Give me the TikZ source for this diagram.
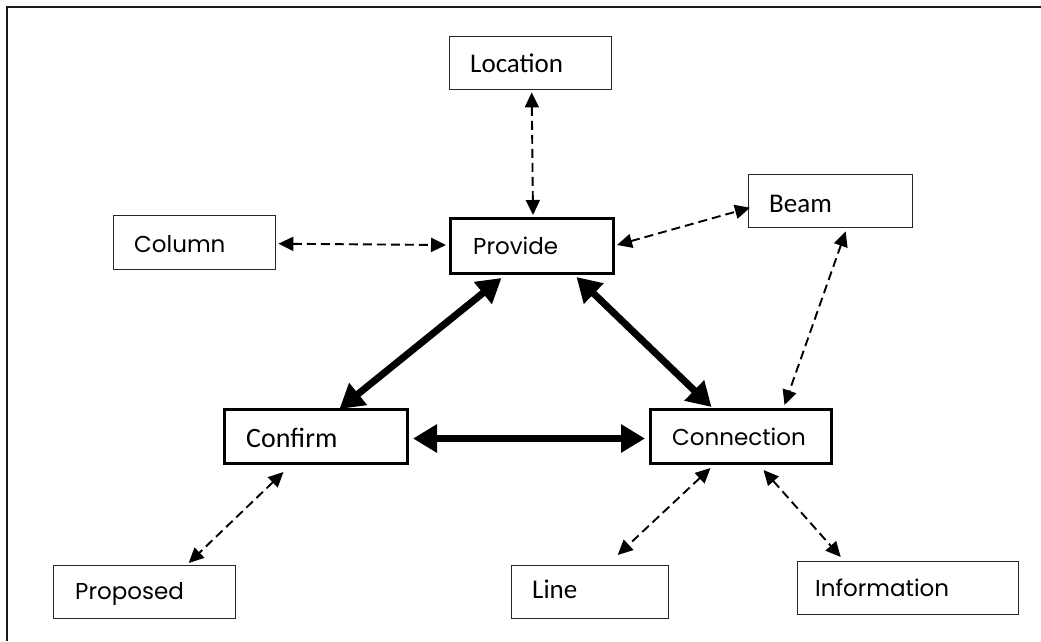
\documentclass[tikz,border=0pt]{standalone}
\usepackage{fontspec}
\setmainfont{Poppins}
\newfontfamily\calfont{Carlito}
\usetikzlibrary{arrows.meta,calc}
\begin{document}
\begin{tikzpicture}[x=1pt,y=-1pt,
  thinbox/.style={draw=black!85,line width=1.4pt,rectangle,inner sep=0pt,anchor=north west},
  thickbox/.style={draw=black,line width=3pt,rectangle,inner sep=0pt,anchor=north west},
  gtxt/.style={anchor=base west,inner sep=0pt,font=\fontsize{23}{26}\selectfont},
  ctxt/.style={anchor=base west,inner sep=0pt,font=\calfont\fontsize{27}{30}\selectfont},
  dasharrow/.style={line width=1.9pt,dash pattern=on 9pt off 5pt,{Triangle[length=15pt,width=14pt]}-{Triangle[length=15pt,width=14pt]}},
  thickarrow/.style={line width=7pt,{Triangle[length=24pt,width=27pt]}-{Triangle[length=24pt,width=27pt]}}
]
\useasboundingbox (0,0) rectangle (1041,641);
% frame
\draw[line width=2pt,black!90] (7,641) -- (7,7) -- (1041,7);
% boxes
\node[thinbox,minimum width=162pt,minimum height=53pt] (location) at (449,36) {};
\node[thinbox,minimum width=164pt,minimum height=53pt] (beam) at (748,174) {};
\node[thinbox,minimum width=162pt,minimum height=54pt] (column) at (113,215) {};
\node[thickbox,minimum width=163pt,minimum height=55pt] (provide) at (449,217) {};
\node[thickbox,minimum width=183pt,minimum height=54pt] (confirm) at (223,408) {};
\node[thickbox,minimum width=181pt,minimum height=54pt] (connection) at (649,408) {};
\node[thinbox,minimum width=182pt,minimum height=53pt] (proposed) at (53,565) {};
\node[thinbox,minimum width=157pt,minimum height=53pt] (line) at (511,565) {};
\node[thinbox,minimum width=221pt,minimum height=53pt] (information) at (797,561) {};
% texts
\node[ctxt] (tlocation) at (470,72) {Location};
\node[ctxt] (tbeam) at (769,212) {Beam};
\node[gtxt] (tcolumn) at (134,252) {Column};
\node[gtxt] (tprovide) at (473,254) {Provide};
\node[ctxt,font=\calfont\fontsize{28}{30}\selectfont] (tconfirm) at (246,447) {Confirm};
\node[gtxt] (tconnection) at (672,445) {Connection};
\node[gtxt] (tproposed) at (75,599) {Proposed};
\node[ctxt] (tline) at (532,598) {Line};
\node[gtxt] (tinformation) at (815,596) {Information};
% dashed connectors
\draw[dasharrow] ($(location.south)+(1,2)$) -- ($(provide.north)+(1,-2)$);
\draw[dasharrow] ($(column.east)+(2,1)$) -- ($(provide.west)+(-3,-1)$);
\draw[dasharrow] ($(provide.east)+(2,-1)$) -- ($(beam.west)+(2,6.5)$);
\draw[dasharrow] ($(beam.south)+(15,3)$) -- ($(connection.north)+(43.5,-3)$);
\draw[dasharrow] ($(confirm.south)+(-32.5,7)$) -- ($(proposed.north)+(44,-2)$);
\draw[dasharrow] ($(connection.south)+(-30.5,3)$) -- ($(line.north)+(27.5,-10)$);
\draw[dasharrow] ($(connection.south)+(22.5,5)$) -- ($(information.north)+(-67.5,-4)$);
% thick connectors
\draw[thickarrow] ($(provide.south)+(-30.5,3)$) -- ($(confirm.north)+(23.5,1)$);
\draw[thickarrow] ($(provide.south)+(44.5,2)$) -- ($(connection.north)+(-29.5,-1)$);
\draw[thickarrow] ($(confirm.east)+(4,2)$) -- ($(connection.west)+(-4,2)$);
\end{tikzpicture}
\end{document}
